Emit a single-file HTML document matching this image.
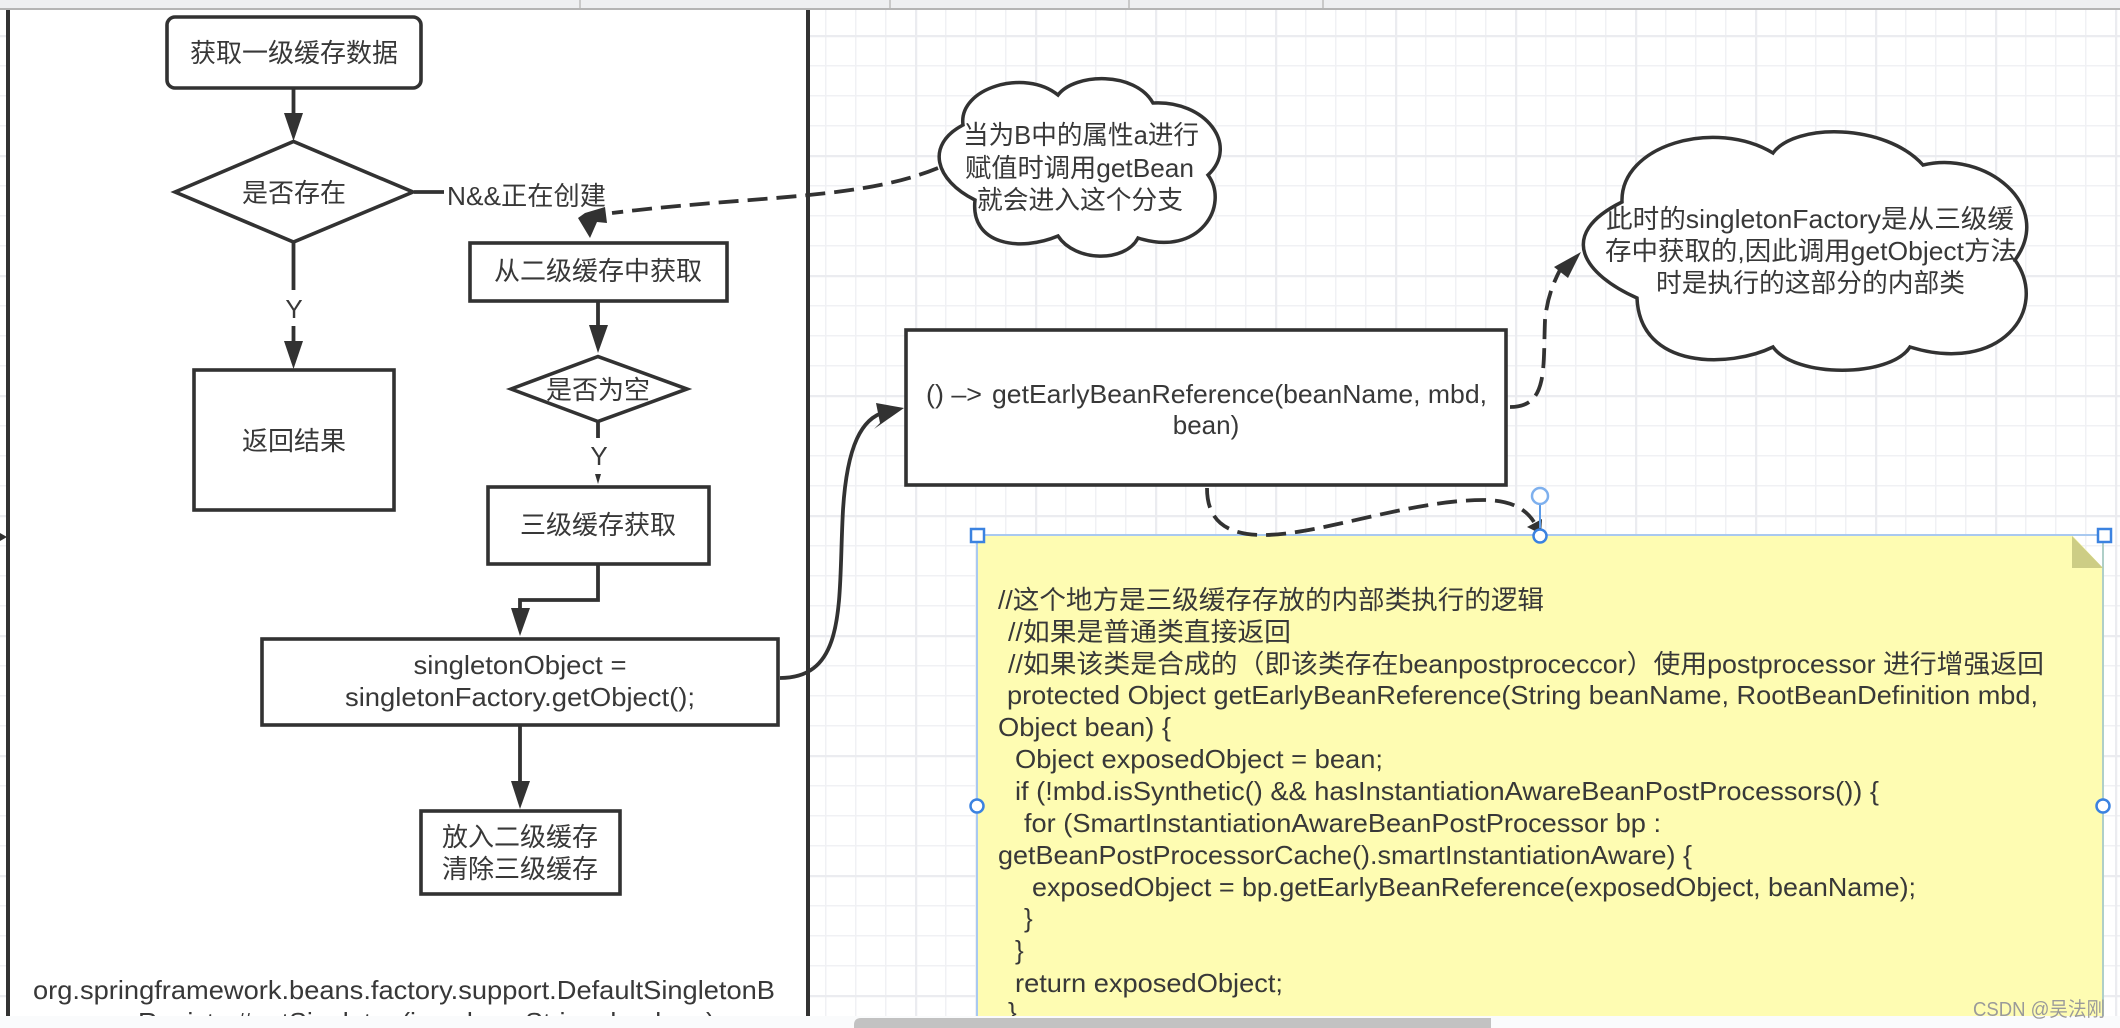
<!DOCTYPE html>
<html><head><meta charset="utf-8"><style>
html,body{margin:0;padding:0;background:#fff}
svg{display:block}
text{font-family:"Liberation Sans","Noto Sans CJK SC",sans-serif;font-size:26px;fill:#383838;dominant-baseline:central}
.m{text-anchor:middle}
.b{fill:#fff;stroke:#323232;stroke-width:3.600}
.l{fill:none;stroke:#323232;stroke-width:3.800}
.d{fill:none;stroke:#323232;stroke-width:3.800;stroke-dasharray:20 9}
.h{fill:#323232;stroke:none}
.s{fill:#fff;stroke:#3b82e0;stroke-width:2.500}
</style></head><body>
<svg width="2120" height="1028" viewBox="0 0 2120 1028" xmlns="http://www.w3.org/2000/svg">
<defs>
<pattern id="gs" width="30" height="30" patternUnits="userSpaceOnUse" x="15" y="5"><path d="M0.500 0V30M0 0.500H30" fill="none" stroke="#f0f1f4" stroke-width="2"/></pattern>
<pattern id="gb" width="120" height="120" patternUnits="userSpaceOnUse" x="-45" y="35"><path d="M0.500 0V120M0 0.500H120" fill="none" stroke="#ebecf0" stroke-width="3.500"/></pattern>
</defs>
<rect width="2120" height="1028" fill="#fff"/>
<rect width="2120" height="1028" fill="url(#gs)"/>
<rect width="2120" height="1028" fill="url(#gb)"/>
<!-- left panel -->
<rect x="8" y="10" width="800" height="1006" fill="#fff"/>
<path d="M8 10V1016" stroke="#323232" stroke-width="4"/>
<path d="M808 10V1016" stroke="#323232" stroke-width="4"/>
<polygon class="h" points="0,533 7,537 0,541"/>
<!-- top bar -->
<rect width="2120" height="8" fill="#eeeff1"/>
<rect y="8" width="2120" height="2" fill="#b4b4b4"/>
<g stroke="#c9c9c9" stroke-width="2"><path d="M580 0V8M890 0V8M1129 0V8M1323 0V8"/></g>

<!-- left flow -->
<rect class="b" x="167" y="17" width="254" height="71" rx="8"/>
<text class="m" x="294" y="53">获取一级缓存数据</text>
<path class="l" d="M293.500 89V115"/>
<polygon class="h" points="284,113 303,113 293.500,141"/>
<polygon class="b" points="175,192 293.500,141.500 413,192 293.500,242"/>
<text class="m" x="294" y="193">是否存在</text>
<path class="l" d="M414 192H444"/>
<text x="447" y="196" textLength="159" lengthAdjust="spacingAndGlyphs">N&amp;&amp;正在创建</text>
<path class="l" d="M293.500 243V290M293.500 326V345"/>
<text class="m" x="294" y="309">Y</text>
<polygon class="h" points="284,341 303,341 293.500,369"/>
<rect class="b" x="194" y="370" width="200" height="140"/>
<text class="m" x="294" y="441">返回结果</text>

<rect class="b" x="470" y="243" width="257" height="58"/>
<text class="m" x="598" y="271">从二级缓存中获取</text>
<path class="l" d="M598 302V327"/>
<polygon class="h" points="589,325 608,325 598,353"/>
<polygon class="b" points="511,389 598,356.500 687,389 598,421.500"/>
<text class="m" x="598" y="390">是否为空</text>
<path class="l" d="M598 422V438"/>
<text class="m" x="599" y="456">Y</text>
<polygon class="h" points="595,474 601,474 598,484"/>
<rect class="b" x="488" y="487" width="221" height="77"/>
<text class="m" x="598" y="525">三级缓存获取</text>
<path class="l" d="M598 565V600H520V612"/>
<polygon class="h" points="511,608 530,608 520,636"/>
<rect class="b" x="262" y="639" width="516" height="86"/>
<text class="m" x="520" y="665" textLength="213" lengthAdjust="spacingAndGlyphs">singletonObject =</text>
<text class="m" x="520" y="697" textLength="350" lengthAdjust="spacingAndGlyphs">singletonFactory.getObject();</text>
<path class="l" d="M520 726V785"/>
<polygon class="h" points="511,781 530,781 520,809"/>
<rect class="b" x="421" y="811" width="199" height="83"/>
<text class="m" x="520" y="837">放入二级缓存</text>
<text class="m" x="520" y="869">清除三级缓存</text>
<text x="33" y="990" textLength="742" lengthAdjust="spacingAndGlyphs">org.springframework.beans.factory.support.DefaultSingletonB</text>
<text x="138" y="1022" textLength="577" lengthAdjust="spacingAndGlyphs">Registry#getSingleton(java.lang.String, boolean)</text>

<!-- connectors right -->
<path class="l" d="M780 678C848 678 838 600 843 510C847 445 862 418 885 412"/>
<polygon class="h" points="904,408 876,403 880,423 874,429"/>
<path class="d" d="M938 168C860 200 760 195 612 213"/>
<polygon class="h" points="590,238 578,218 585,213 605,207 607,223 597,222"/>

<rect class="b" x="906" y="330" width="600" height="155"/>
<text x="926" y="394" textLength="56" lengthAdjust="spacingAndGlyphs">() –&gt;</text>
<text x="992" y="394" textLength="495" lengthAdjust="spacingAndGlyphs">getEarlyBeanReference(beanName, mbd,</text>
<text class="m" x="1206" y="425">bean)</text>

<path class="d" d="M1510 407C1548 407 1543 370 1545 320C1547 300 1552 285 1561 268"/>
<polygon class="h" points="1581,252 1554,267 1568,278"/>

<!-- clouds -->
<path fill="#fff" stroke="#323232" stroke-width="3.500" d="M1058,95C1075,73 1135,71 1153,103C1205,100 1240,145 1208,175C1230,205 1200,258 1138,238C1125,263 1075,262 1058,236C1020,252 970,245 975,200C935,180 925,145 963,125C958,88 1025,68 1058,95Z"/>
<text x="963" y="135" textLength="236" lengthAdjust="spacingAndGlyphs">当为B中的属性a进行</text>
<text x="965" y="168" textLength="229" lengthAdjust="spacingAndGlyphs">赋值时调用getBean</text>
<text x="977" y="200" textLength="206" lengthAdjust="spacingAndGlyphs">就会进入这个分支</text>

<path fill="#fff" stroke="#323232" stroke-width="3.500" d="M1773,153C1795,123 1885,123 1923,165C1985,150 2055,205 2015,260C2050,310 2000,375 1910,347C1890,378 1795,378 1773,347C1730,368 1640,370 1637,298C1585,275 1555,235 1622,202C1620,145 1715,118 1773,153Z"/>
<text x="1606" y="219" textLength="408" lengthAdjust="spacingAndGlyphs">此时的singletonFactory是从三级缓</text>
<text x="1605" y="251" textLength="412" lengthAdjust="spacingAndGlyphs">存中获取的,因此调用getObject方法</text>
<text x="1656" y="283" textLength="309" lengthAdjust="spacingAndGlyphs">时是执行的这部分的内部类</text>

<!-- sticky note -->
<polygon points="977,535 2072,535 2103,568 2103,1016 977,1016" fill="#fefcb2"/>
<path d="M977 1016V535H2103" fill="none" stroke="#a9c9f0" stroke-width="2"/>
<path d="M2103 535V1016" stroke="#afcfc8" stroke-width="2"/>
<polygon points="2072,536 2103,568 2072,568" fill="#cdcd85"/>
<text x="998" y="600" textLength="546" lengthAdjust="spacingAndGlyphs">//这个地方是三级缓存存放的内部类执行的逻辑</text>
<text x="1008" y="632" textLength="283" lengthAdjust="spacingAndGlyphs">//如果是普通类直接返回</text>
<text x="1008" y="664" textLength="1036" lengthAdjust="spacingAndGlyphs">//如果该类是合成的（即该类存在beanpostproceccor）使用postprocessor 进行增强返回</text>
<text x="1007" y="695" textLength="1031" lengthAdjust="spacingAndGlyphs">protected Object getEarlyBeanReference(String beanName, RootBeanDefinition mbd,</text>
<text x="998" y="727" textLength="173" lengthAdjust="spacingAndGlyphs">Object bean) {</text>
<text x="1015" y="759" textLength="368" lengthAdjust="spacingAndGlyphs">Object exposedObject = bean;</text>
<text x="1015" y="791" textLength="864" lengthAdjust="spacingAndGlyphs">if (!mbd.isSynthetic() &amp;&amp; hasInstantiationAwareBeanPostProcessors()) {</text>
<text x="1024" y="823" textLength="637" lengthAdjust="spacingAndGlyphs">for (SmartInstantiationAwareBeanPostProcessor bp :</text>
<text x="998" y="855" textLength="694" lengthAdjust="spacingAndGlyphs">getBeanPostProcessorCache().smartInstantiationAware) {</text>
<text x="1032" y="887" textLength="884" lengthAdjust="spacingAndGlyphs">exposedObject = bp.getEarlyBeanReference(exposedObject, beanName);</text>
<text x="1024" y="918">}</text>
<text x="1015" y="950">}</text>
<text x="1015" y="983" textLength="268" lengthAdjust="spacingAndGlyphs">return exposedObject;</text>
<text x="1008" y="1012">}</text>

<!-- dashed curve into note -->
<path class="d" d="M1207 488C1207 515 1220 535 1263 535C1320 535 1410 500 1483 500C1510 500 1525 508 1534 522"/>
<polygon class="h" points="1541,534 1527,527 1542,519"/>

<!-- selection handles -->
<path d="M1540 504V528" stroke="#5b9be8" stroke-width="2"/>
<circle cx="1540" cy="496" r="8" fill="#fff" stroke="#7eb0ee" stroke-width="2.500"/>
<rect class="s" x="971" y="529" width="13" height="13"/>
<rect class="s" x="2098" y="529" width="13" height="13"/>
<circle class="s" cx="1540" cy="536" r="6.500"/>
<circle class="s" cx="977" cy="806" r="6.500"/>
<circle class="s" cx="2103" cy="806" r="6.500"/>

<!-- bottom bar -->
<rect y="1016" width="2120" height="12" fill="#fafbfc"/>
<path d="M861 1018H1491V1028H854V1025Q854 1018 861 1018Z" fill="#c2c2c2"/>
<text x="1973" y="1010" textLength="132" lengthAdjust="spacingAndGlyphs" style="font-size:20px;fill:#9a9a9a">CSDN @吴法刚</text>
</svg>
</body></html>
